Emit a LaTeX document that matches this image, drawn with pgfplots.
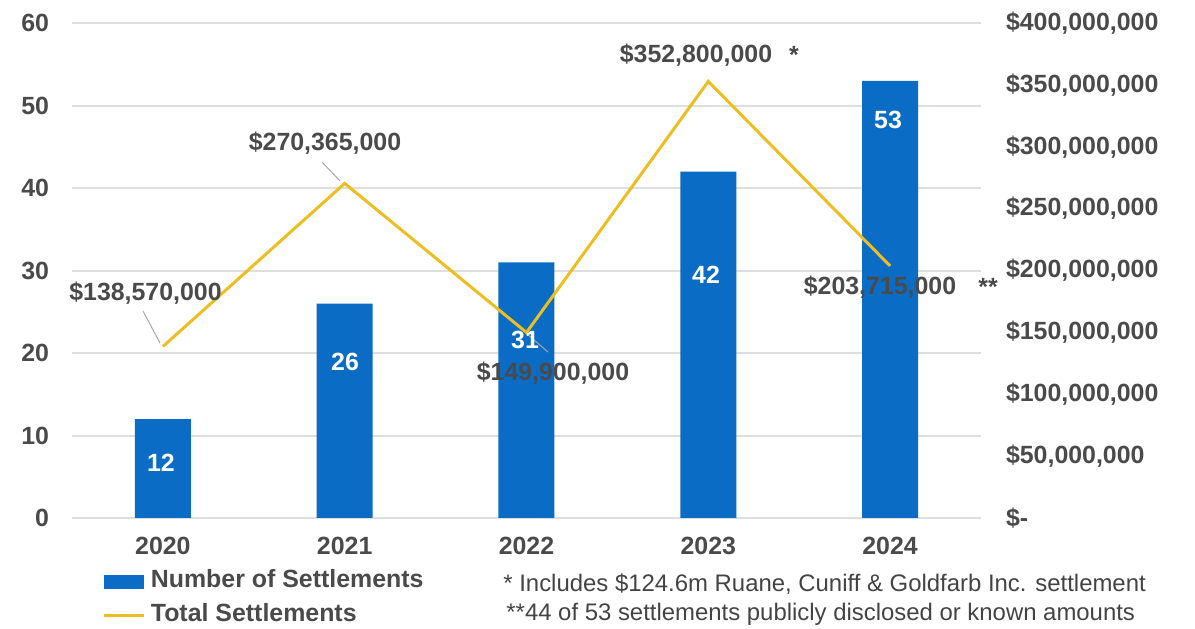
\documentclass[border=0pt]{standalone}
\usepackage{fontspec}
\setmainfont{Liberation Sans}
\usepackage{pgfplots}
\pgfplotsset{compat=1.18}
\definecolor{barblue}{HTML}{0A6CC4}
\definecolor{linegold}{HTML}{EDBE22}
\definecolor{txt}{HTML}{4A4A4A}
\definecolor{gridc}{HTML}{DEDEDE}

\newcommand{\lbl}{\bfseries\fontsize{12.5}{15}\selectfont}

\begin{document}
\begin{tikzpicture}
% left axis: number of settlements
\begin{axis}[
  at={(0,0)}, anchor=south west,
  scale only axis, width=454.5bp, height=247.5bp,
  xmin=-0.5, xmax=4.5, ymin=0, ymax=60,
  xtick={0,1,2,3,4}, xticklabels={2020,2021,2022,2023,2024},
  ytick={0,10,20,30,40,50,60},
  /pgf/number format/assume math mode=true,
  axis line style={draw=none}, tick style={draw=none},
  ymajorgrids, grid style={gridc, line width=1bp},
  ticklabel style={font=\lbl, text=txt},
  yticklabel style={anchor=east, xshift=-8bp},
  xticklabel style={anchor=north, yshift=-6bp},
  legend style={at={(0.034,-0.10)}, anchor=north west, draw=none, fill=none,
    inner sep=0pt, outer sep=0pt, row sep=3bp, font=\lbl, text=txt,
    nodes={inner sep=1bp, text height=9bp, text depth=3bp},
    /tikz/every odd column/.style={column sep=1.5bp}},
  legend cell align=left,
]
\addplot[ybar, bar width=28bp, fill=barblue, draw=none,
  legend image code/.code={\fill[barblue] (0bp,-3.5bp) rectangle (20bp,3.5bp);}]
  coordinates {(0,12) (1,26) (2,31) (3,42) (4,53)};
\addlegendentry{Number of Settlements}
\addlegendimage{linegold, line width=1.5bp,
  legend image code/.code={\draw[linegold, line width=1.5bp] (0bp,0bp) -- (20bp,0bp);}}
\addlegendentry{Total Settlements}
\end{axis}

% right axis: total settlements ($ millions)
\begin{axis}[
  at={(0,0)}, anchor=south west,
  scale only axis, width=454.5bp, height=247.5bp,
  xmin=-0.5, xmax=4.5, ymin=0, ymax=400,
  hide x axis, axis y line*=right,
  y axis line style={draw=none}, tick style={draw=none},
  ytick={0,50,100,150,200,250,300,350,400},
  yticklabels={\$-, {\$50,000,000}, {\$100,000,000}, {\$150,000,000}, {\$200,000,000},
    {\$250,000,000}, {\$300,000,000}, {\$350,000,000}, {\$400,000,000}},
  ticklabel style={font=\lbl, text=txt},
  yticklabel style={anchor=west, xshift=9bp},
]
\addplot[linegold, line width=1.5bp]
  coordinates {(0,138.57) (1,270.365) (2,149.9) (3,352.8) (4,203.715)};
\end{axis}

% data labels
\begin{scope}[every node/.style={font=\lbl, text=txt, inner sep=0pt}]
  \draw[gray!70, line width=0.5bp] (35.5bp,103.5bp) -- (44bp,87.5bp);
  \draw[gray!70, line width=0.5bp] (125bp,178bp) -- (134bp,168.5bp);
  \draw[gray!70, line width=0.5bp] (227.5bp,92bp) -- (238bp,83bp);
  \node at (36.75bp,112.5bp) {\$138,570,000};
  \node at (126.5bp,187.5bp) {\$270,365,000};
  \node at (240.5bp,72.5bp) {\$149,900,000};
  \node at (312bp,231.5bp) {\$352,800,000};
  \node at (361bp,231.5bp) {*};
  \node at (404bp,115.5bp) {\$203,715,000};
  \node at (458bp,115.5bp) {**};
\end{scope}
\begin{scope}[every node/.style={font=\lbl, text=white, inner sep=0pt}]
  \node at (44.5bp,27.5bp) {12};
  \node at (136.5bp,78bp) {26};
  \node at (226.5bp,89bp) {31};
  \node at (317bp,121.5bp) {42};
  \node at (408bp,199bp) {53};
\end{scope}

% footnotes
\node[anchor=base west, font=\fontsize{12}{14.5}\selectfont, text=txt!90!black, inner sep=0pt]
  at (215.5bp,-36.5bp) {* Includes \$124.6m Ruane, Cuniff \& Goldfarb Inc. settlement};
\node[anchor=base west, font=\fontsize{12}{14.5}\selectfont, text=txt!90!black, inner sep=0pt]
  at (217bp,-51bp) {**44 of 53 settlements publicly disclosed or known amounts};

\pgfresetboundingbox
\path[use as bounding box] (-36bp,-55.5bp) rectangle (561.5bp,259bp);
\end{tikzpicture}
\end{document}
